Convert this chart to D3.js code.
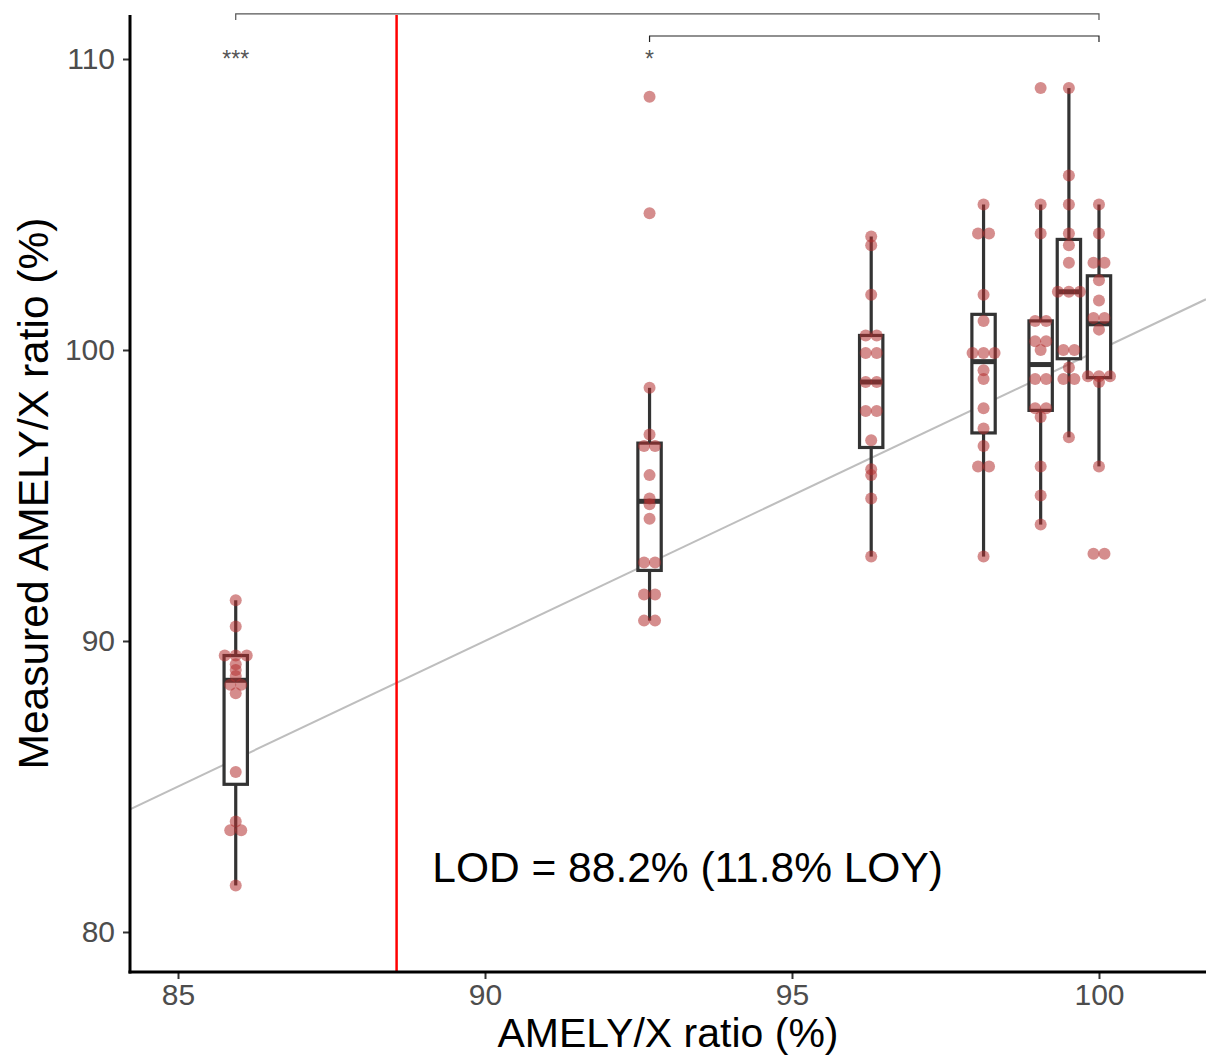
<!DOCTYPE html>
<html>
<head>
<meta charset="utf-8">
<script src="https://cdn.jsdelivr.net/npm/d3@7"></script>
<style>
  html, body { margin: 0; padding: 0; background: #ffffff; }
  svg { display: block; }
  text { font-family: Arial, "Liberation Sans", Helvetica, sans-serif; }
</style>
</head>
<body>
<svg id="chart" width="1206" height="1056"></svg>
<script>
// ---------- data ----------
const groupX = [85.94, 92.68, 96.29, 98.12, 99.05, 99.51, 100];
const group1 = [91.4, 90.5, 89.5, 89.5, 89.5, 89.2, 89.0, 88.8, 88.5, 88.5, 88.2, 85.5, 83.8, 83.5, 83.5, 81.6];
const group2 = [108.7, 104.7, 98.7, 97.1, 96.7, 96.7, 95.7, 94.9, 94.7, 94.2, 92.7, 92.7, 91.6, 91.6, 90.7, 90.7];
const group3 = [103.9, 103.6, 101.9, 100.5, 100.5, 99.9, 99.9, 98.9, 98.9, 97.9, 97.9, 96.9, 95.9, 95.7, 94.9, 92.9];
const group4 = [105.0, 104.0, 104.0, 101.9, 101.0, 99.9, 99.9, 99.9, 99.3, 99.0, 98.0, 97.3, 96.7, 96.0, 96.0, 92.9];
const group5 = [109.0, 105.0, 104.0, 101.0, 101.0, 100.3, 100.3, 100.0, 99.0, 99.0, 98.0, 98.0, 97.7, 96.0, 95.0, 94.0];
const group6 = [109.0, 106.0, 105.0, 104.0, 103.6, 103.0, 102.0, 102.0, 102.0, 100.0, 100.0, 99.4, 99.0, 99.0, 97.0];
const group7 = [105.0, 104.0, 103.0, 103.0, 102.4, 101.7, 101.1, 101.1, 100.7, 99.1, 99.1, 99.1, 98.9, 96.0, 93.0, 93.0];
const groupValues = [group1, group2, group3, group4, group5, group6, group7];

const xTicks = [85, 90, 95, 100];
const yTicks = [80, 90, 100, 110];
const lodX = 88.56;
const lodLabel = "LOD = 88.2% (11.8% LOY)";
const lodLabelPos = [93.3, 82.2];
const brackets = [
  { x1: 85.94, x2: 100, y: 111.55, label: "***", labelY: 110 },
  { x1: 92.68, x2: 100, y: 110.79, label: "*", labelY: 110 }
];
const xTitle = "AMELY/X ratio (%)";
const yTitle = "Measured AMELY/X ratio (%)";

// ---------- layout ----------
const svg = d3.select("#chart");
const mLeft = 130, mRight = 1206, mTop = 15, mBottom = 972;

const x = d3.scaleLinear().domain([84.218, 101.743]).range([mLeft, mRight]);
const y = d3.scaleLinear().domain([78.625, 111.512]).range([mBottom, mTop]);

svg.append("defs").append("clipPath").attr("id", "plotclip")
  .append("rect").attr("x", mLeft).attr("y", mTop).attr("width", mRight - mLeft).attr("height", mBottom - mTop);

const plot = svg.append("g").attr("clip-path", "url(#plotclip)");

// identity reference line
plot.append("line")
  .attr("x1", x(84.218)).attr("y1", y(84.218))
  .attr("x2", x(101.743)).attr("y2", y(101.743))
  .attr("stroke", "#bebebe").attr("stroke-width", 2);

// LOD line
plot.append("line")
  .attr("x1", x(lodX)).attr("x2", x(lodX))
  .attr("y1", mTop).attr("y2", mBottom)
  .attr("stroke", "#ff0000").attr("stroke-width", 2.5);

// ---------- boxplots ----------
const boxHalf = 0.19; // data units
groupValues.forEach((vals, i) => {
  const s = vals.slice().sort(d3.ascending);
  const q1 = d3.quantile(s, 0.25), med = d3.quantile(s, 0.5), q3 = d3.quantile(s, 0.75);
  const iqr = q3 - q1;
  const lo = d3.min(s.filter(v => v >= q1 - 1.5 * iqr));
  const hi = d3.max(s.filter(v => v <= q3 + 1.5 * iqr));
  const cx = groupX[i];
  const g = plot.append("g");
  g.append("line").attr("x1", x(cx)).attr("x2", x(cx)).attr("y1", y(hi)).attr("y2", y(q3))
    .attr("stroke", "#333333").attr("stroke-width", 3.2);
  g.append("line").attr("x1", x(cx)).attr("x2", x(cx)).attr("y1", y(q1)).attr("y2", y(lo))
    .attr("stroke", "#333333").attr("stroke-width", 3.2);
  g.append("rect")
    .attr("x", x(cx - boxHalf)).attr("width", x(cx + boxHalf) - x(cx - boxHalf))
    .attr("y", y(q3)).attr("height", y(q1) - y(q3))
    .attr("fill", "#ffffff").attr("stroke", "#333333").attr("stroke-width", 3.2);
  g.append("line").attr("x1", x(cx - boxHalf)).attr("x2", x(cx + boxHalf))
    .attr("y1", y(med)).attr("y2", y(med))
    .attr("stroke", "#333333").attr("stroke-width", 5);
});

// ---------- points (duplicates dodged side by side) ----------
groupValues.forEach((vals, i) => {
  const counts = d3.rollup(vals, v => v.length, v => v);
  const seen = new Map();
  vals.forEach(v => {
    const n = counts.get(v);
    const k = seen.get(v) || 0;
    seen.set(v, k + 1);
    const off = (k - (n - 1) / 2) * 11;
    plot.append("circle")
      .attr("cx", x(groupX[i]) + off)
      .attr("cy", y(v))
      .attr("r", 6)
      .attr("fill", "#b22f2f")
      .attr("fill-opacity", 0.55);
  });
});

// ---------- significance brackets ----------
brackets.forEach((b, i) => {
  const col = i === 0 ? "#555555" : "#222222";
  svg.append("path")
    .attr("d", `M${x(b.x1)},${y(b.y) + 6}V${y(b.y)}H${x(b.x2)}V${y(b.y) + 6}`)
    .attr("fill", "none").attr("stroke", col).attr("stroke-width", 1.2);
  svg.append("text")
    .attr("x", x(b.x1)).attr("y", y(b.labelY) + 8)
    .attr("text-anchor", "middle")
    .attr("font-size", 23).attr("fill", "#555555")
    .text(b.label);
});

// LOD label
svg.append("text")
  .attr("x", x(lodLabelPos[0])).attr("y", y(lodLabelPos[1]))
  .attr("text-anchor", "middle").attr("dominant-baseline", "central")
  .attr("font-size", 42.5).attr("fill", "#000000")
  .text(lodLabel);

// ---------- axes ----------
const xAxis = svg.append("g").attr("transform", `translate(0,${mBottom})`)
  .call(d3.axisBottom(x).tickValues(xTicks).tickSize(7).tickPadding(5).tickFormat(d3.format("d")));
const yAxis = svg.append("g").attr("transform", `translate(${mLeft},0)`)
  .call(d3.axisLeft(y).tickValues(yTicks).tickSize(7).tickPadding(8).tickFormat(d3.format("d")));

[xAxis, yAxis].forEach(a => {
  a.select(".domain").remove();
  a.selectAll(".tick line").attr("stroke", "#333333").attr("stroke-width", 2);
  a.selectAll(".tick text").attr("fill", "#4d4d4d").attr("font-size", 30)
    .attr("font-family", "Arial, 'Liberation Sans', sans-serif");
});

// axis lines
svg.append("line").attr("x1", mLeft).attr("x2", mLeft).attr("y1", mTop).attr("y2", mBottom + 1.5)
  .attr("stroke", "#000000").attr("stroke-width", 3);
svg.append("line").attr("x1", mLeft - 1.5).attr("x2", mRight).attr("y1", mBottom).attr("y2", mBottom)
  .attr("stroke", "#000000").attr("stroke-width", 3);

// axis titles
svg.append("text")
  .attr("x", (mLeft + mRight) / 2).attr("y", 1047)
  .attr("text-anchor", "middle").attr("font-size", 41).attr("fill", "#000000")
  .text(xTitle);
svg.append("text")
  .attr("transform", `translate(48,${(mTop + mBottom) / 2}) rotate(-90)`)
  .attr("text-anchor", "middle").attr("font-size", 42.5).attr("fill", "#000000")
  .text(yTitle);
</script>
</body>
</html>
